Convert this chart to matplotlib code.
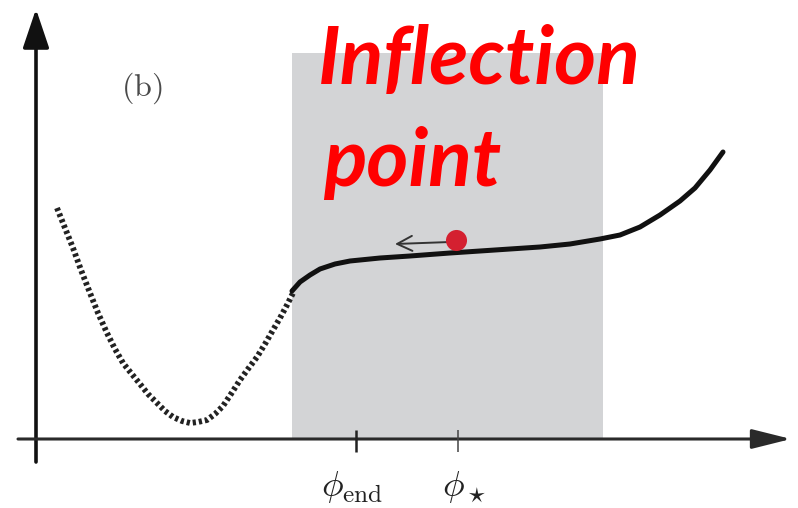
import matplotlib
matplotlib.use("Agg")
import matplotlib.pyplot as plt
from matplotlib.patches import Rectangle

plt.rcParams['mathtext.fontset'] = 'cm'

# everything is in image pixel coordinates (y grows downwards)
W, H = 798, 508

# false vacuum part of the potential (dotted)
dot_x = [57, 65, 73, 81, 90, 98, 107, 115, 123, 131, 140, 148, 157, 165,
         173, 182, 190, 198, 207, 215, 223, 231, 240, 248, 257, 265, 273,
         280, 287, 293]
dot_y = [208, 228, 248, 270, 293, 313, 333, 349, 363, 373, 384, 394, 403,
         411, 417, 421, 423, 422, 420, 414, 406, 394, 380, 369, 357, 344,
         330, 318, 305, 293]

# plateau and rise (solid)
sol_x = [292, 300, 310, 320, 335, 350, 380, 410, 450, 480, 510, 540, 570,
         600, 620, 640, 660, 680, 695, 710, 723]
sol_y = [291, 282, 275, 269, 264, 261, 258, 256, 253, 251, 249, 247, 244,
         239, 235, 227, 215, 201, 188, 170, 152]

band = (292, 603)      # shaded field range
band_top = 53
axis_x, axis_y = 36, 439
tick_pos = [356, 458]
tick_labels = [r'$\phi_{\rm end}$', r'$\phi_\star$']
label_x = [352, 464]
ball = (456, 240)
title_lines = ['Inflection', 'point']
title_x = [318, 323]
title_base = [84, 186]

fig = plt.figure(figsize=(W / 100, H / 100), dpi=100)
ax = fig.add_axes([0, 0, 1, 1])
ax.set_xlim(0, W)
ax.set_ylim(H, 0)
ax.axis('off')

ax.add_patch(Rectangle((band[0], band_top), band[1] - band[0],
                       axis_y - band_top, color='#d3d4d6', lw=0, zorder=0))

ax.plot(dot_x, dot_y, color='#222222', lw=4.2,
        linestyle=(0, (0.55, 0.5)), dash_capstyle='butt', zorder=3)
ax.plot(sol_x, sol_y, color='#111111', lw=3.6, solid_capstyle='round',
        zorder=3)

# axes with arrow heads
ax.annotate('', xy=(axis_x, 9), xytext=(axis_x, 462),
            arrowprops=dict(arrowstyle='-|>,head_length=0.8,head_width=0.27',
                            mutation_scale=30, lw=2.6, color='#111111',
                            shrinkA=0, shrinkB=0), zorder=4)
ax.annotate('', xy=(791, axis_y), xytext=(18, axis_y),
            arrowprops=dict(arrowstyle='-|>,head_length=0.8,head_width=0.2',
                            mutation_scale=30, lw=2.2, color='#2a2a2a',
                            shrinkA=0, shrinkB=0), zorder=4)

ax.vlines(tick_pos[0], 430, 452, color='#222222', lw=1.8, zorder=4)
ax.vlines(tick_pos[1], 430, 452, color='#444444', lw=1.1, zorder=4)
for lx, lab in zip(label_x, tick_labels):
    ax.text(lx, 487, lab, fontsize=26, ha='center', va='center',
            color='#222222')

# the rolling field
ax.annotate('', xy=(395, 244), xytext=(450, 242),
            arrowprops=dict(arrowstyle='->,head_length=0.6,head_width=0.3',
                            mutation_scale=18, lw=1.4, color='#333333',
                            shrinkA=0, shrinkB=0), zorder=5)
ax.scatter([ball[0]], [ball[1]], s=230, color='#d42030', lw=0, zorder=6)

ax.text(142, 88, r'$\mathrm{(b)}$', fontsize=23, ha='center', va='center',
        color='#4a4a4a')
for tx, ty, line in zip(title_x, title_base, title_lines):
    ax.text(tx, ty, line, fontsize=58, color='#ff0000',
            family='Lato', weight='bold', style='italic',
            ha='left', va='baseline')

fig.savefig('out.png', dpi=100)
